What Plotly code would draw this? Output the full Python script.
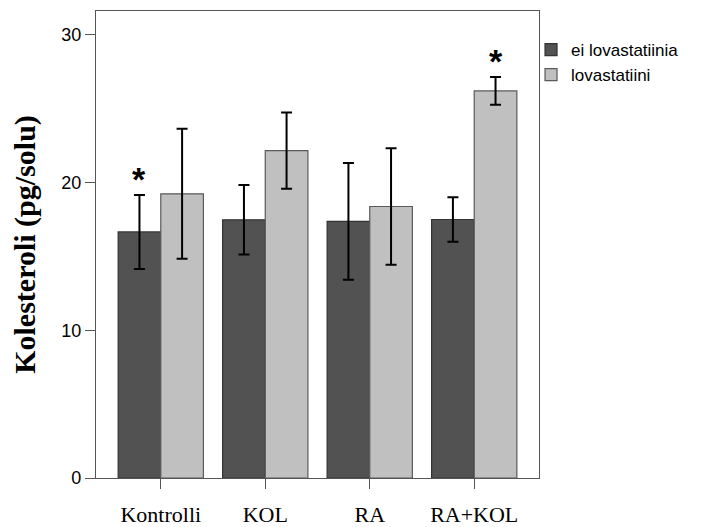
import plotly.graph_objects as go

categories = ["Kontrolli", "KOL", "RA", "RA+KOL"]
series_names = ["ei lovastatiinia", "lovastatiini"]
no_lova = [16.65, 17.47, 17.36, 17.49]
no_lova_err = [2.5, 2.35, 3.95, 1.5]
lova = [19.23, 22.15, 18.37, 26.19]
lova_err = [4.4, 2.58, 3.94, 0.94]
y_ticks = [0, 10, 20, 30]
# significance markers: (category, series index)
stars = [("Kontrolli", 0), ("RA+KOL", 1)]

colors = ["#525252", "#c0c0c0"]
outlines = ["#333333", "#5a5a5a"]

fig = go.Figure()
for name, vals, errs, col, oc in zip(series_names, [no_lova, lova], [no_lova_err, lova_err], colors, outlines):
    fig.add_trace(go.Bar(
        x=categories, y=vals, name=name,
        marker=dict(color=col, line=dict(color=oc, width=1.2)),
        error_y=dict(type="data", array=errs, visible=True, color="black", thickness=2, width=5.5),
    ))

series_vals = [no_lova, lova]
series_errs = [no_lova_err, lova_err]
for cat, si in stars:
    i = categories.index(cat)
    fig.add_annotation(
        x=cat, y=series_vals[si][i] + series_errs[si][i],
        xref="x", yref="y", text="<b>*</b>", showarrow=False,
        xshift=-21.3 if si == 0 else 21.3, yshift=-5, yanchor="bottom",
        font=dict(family="Liberation Sans", size=34, color="black"),
    )

fig.update_layout(
    width=704, height=527,
    margin=dict(l=88, r=173, t=3, b=57),
    paper_bgcolor="white", plot_bgcolor="white",
    barmode="group", bargap=0.184, bargroupgap=0,
    showlegend=True,
    legend=dict(x=0.982, y=0.955, xanchor="left", yanchor="top",
                font=dict(family="Liberation Sans", size=17, color="black"),
                bgcolor="rgba(0,0,0,0)", tracegroupgap=0, itemwidth=30),
    xaxis=dict(
        range=[-0.62, 3.62], showline=True, linecolor="#555555", linewidth=1.3, mirror=True,
        ticks="outside", ticklen=10, tickcolor="#555555", tickwidth=1.3,
        ticklabelstandoff=6,
        tickfont=dict(family="Liberation Serif", size=22, color="black"),
        showgrid=False, zeroline=False, automargin=False,
    ),
    yaxis=dict(
        range=[0, 31.6], tickvals=y_ticks, showline=True, linecolor="#555555", linewidth=1.3, mirror=True,
        ticks="outside", ticklen=10, tickcolor="#555555", tickwidth=1.3,
        tickfont=dict(family="Liberation Sans", size=18, color="black"),
        showgrid=False, zeroline=False, automargin=False,
        title=dict(text="<b>Kolesteroli (pg/solu)</b>", standoff=20,
                   font=dict(family="Liberation Serif", size=30, color="black")),
    ),
)

fig.write_html("out.html")
